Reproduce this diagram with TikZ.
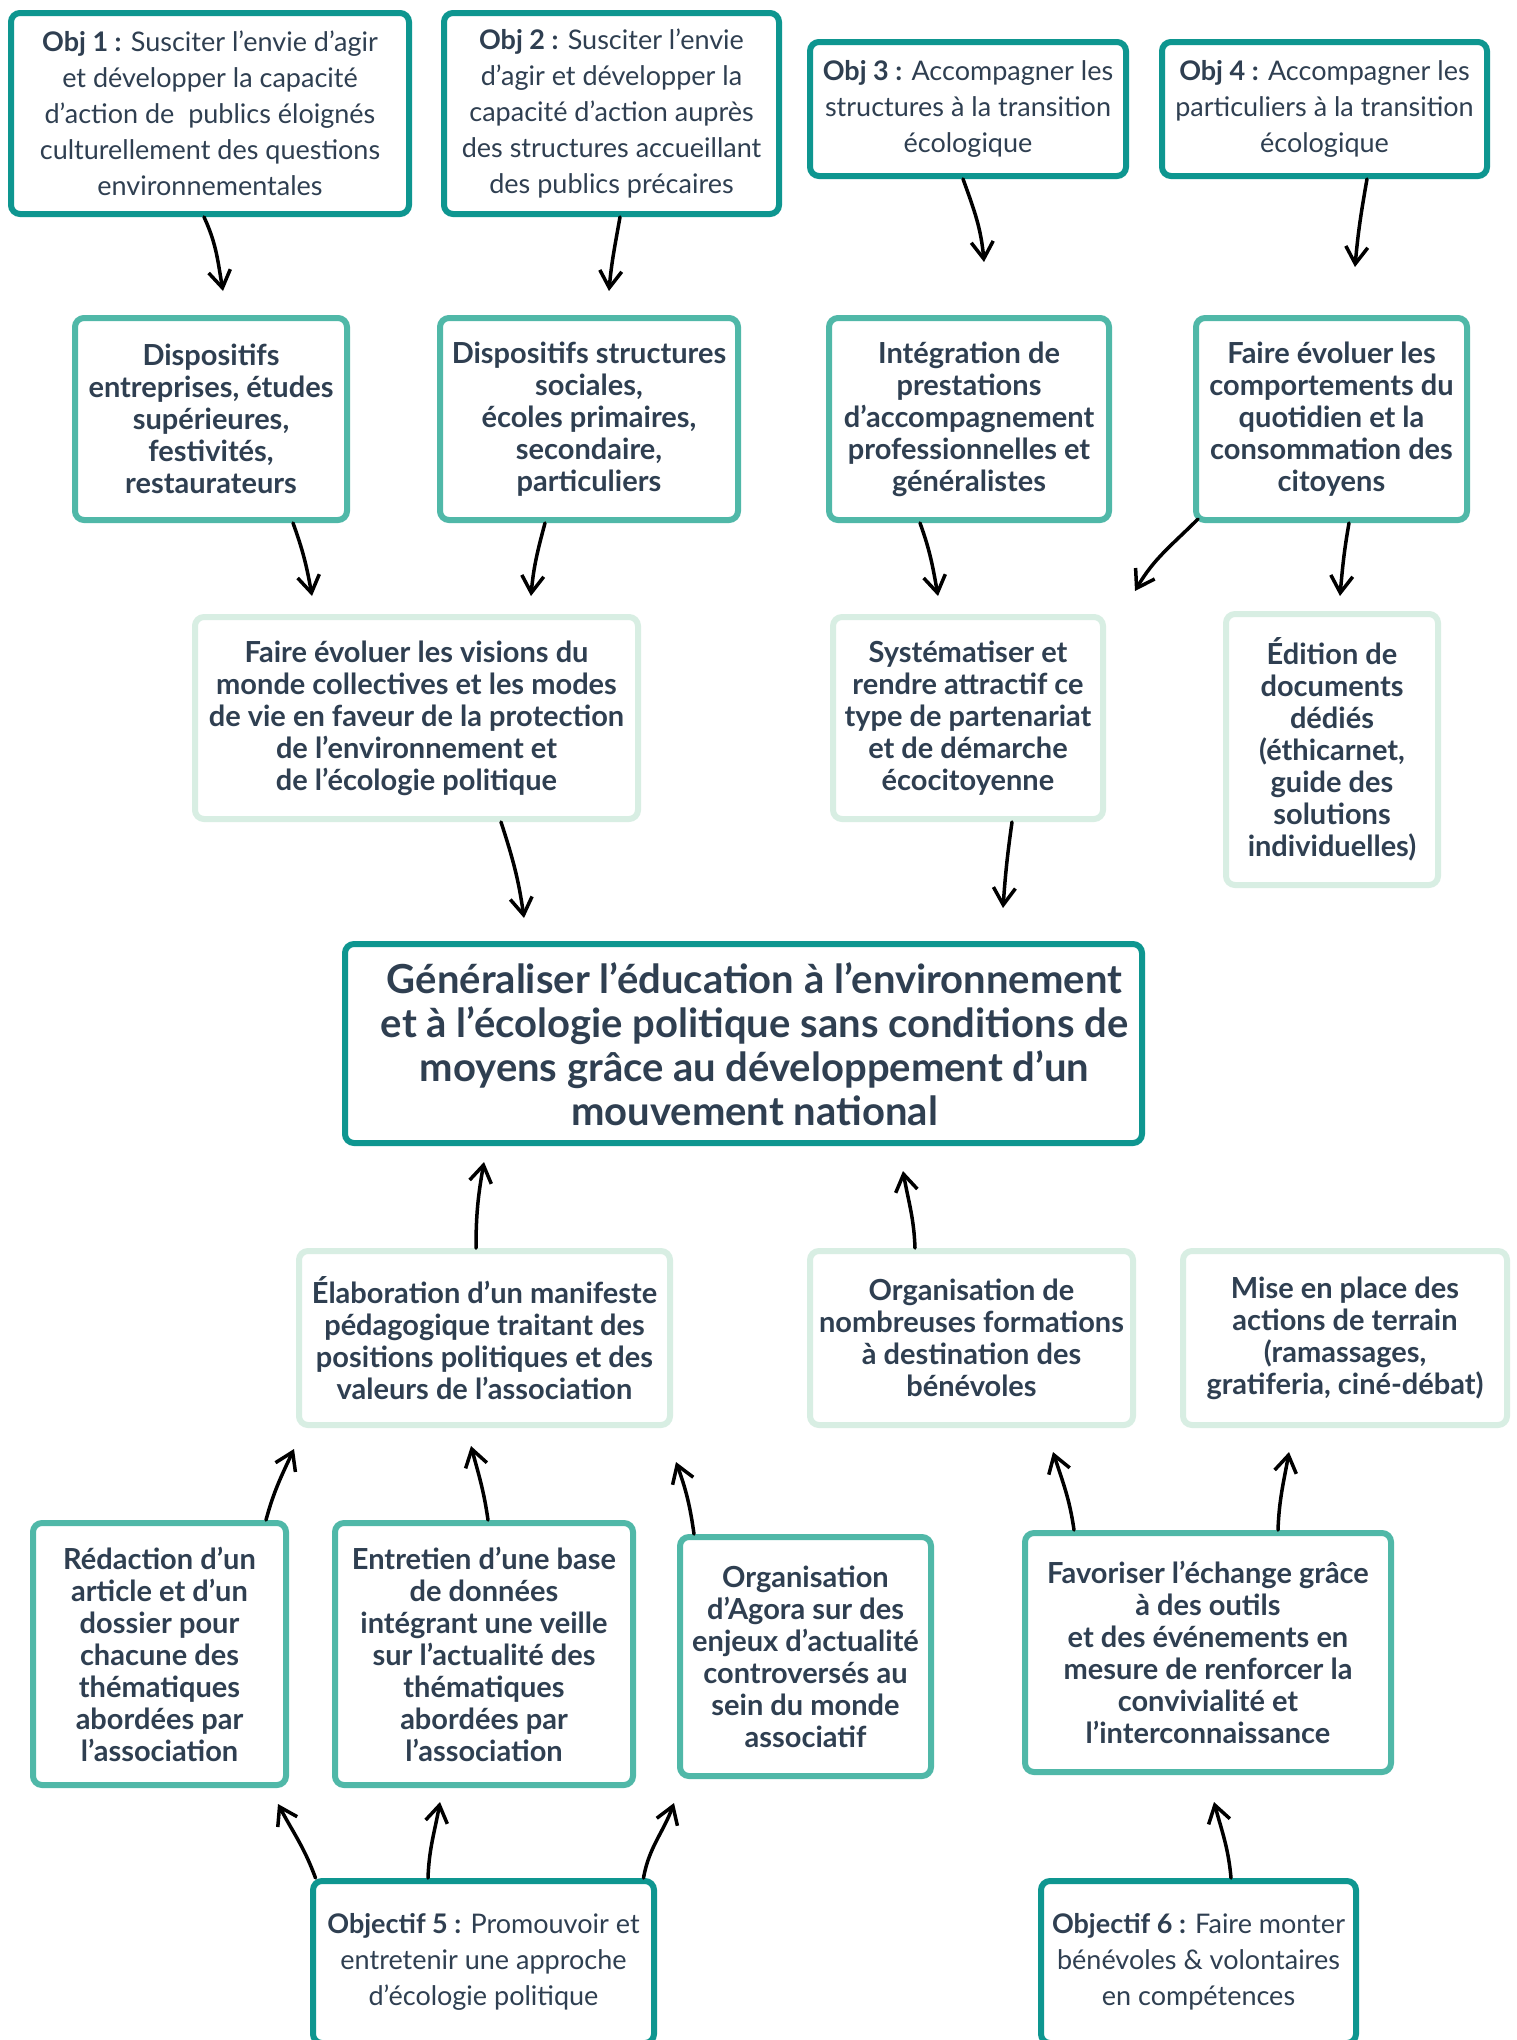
\documentclass[tikz,border=0pt]{standalone}
\usepackage{fontspec}
\setmainfont{Lato}
\usetikzlibrary{arrows.meta}
\definecolor{darkteal}{HTML}{0E9690}
\definecolor{midteal}{HTML}{50B8A8}
\definecolor{paleteal}{HTML}{D8EEE3}
\definecolor{txt}{HTML}{2F3F51}
\newcommand\mkbox[7]{%
\pgfmathsetmacro\bxcx{(#3+#5)/2}%
\pgfmathsetmacro\bxcy{(#4+#6)/2}%
\pgfmathsetmacro\bxw{#5-#3-6}%
\pgfmathsetmacro\bxh{#6-#4-6}%
\node[#2, minimum width=\bxw pt, minimum height=\bxh pt] (#1) at (\bxcx,\bxcy) {#7};}
\tikzset{
 box/.style={rectangle, rounded corners=9pt, line width=6pt, fill=white, text=txt, align=center, inner sep=2pt},
 objbox/.style={box, draw=darkteal, font=\fontsize{27}{36}\selectfont},
 midbox/.style={box, draw=midteal, font=\bfseries\fontsize{29}{32}\selectfont},
 palebox/.style={box, draw=paleteal, font=\bfseries\fontsize{29}{32}\selectfont},
 mainbox/.style={box, draw=darkteal, font=\bfseries\fontsize{40}{44}\selectfont},
 maintext/.style={text=txt, align=center, inner sep=0pt, font=\bfseries\fontsize{40}{44}\selectfont},
 arr/.style={-{Straight Barb[length=17pt,width=22pt]}, line width=3.5pt, line cap=round, line join=round, black}
}
\begin{document}
\begin{tikzpicture}[x=1pt,y=-1pt]
\useasboundingbox (0,0) rectangle (1516,2040);
\clip (0,0) rectangle (1516,2040);
\fill[white] (0,0) rectangle (1516,2040);
% objectives top
\mkbox{o1}{objbox}{8}{10}{412}{217}{\textbf{Obj 1 :} Susciter l’envie d’agir\\et développer la capacité\\d’action de\ \ publics éloignés\\culturellement des questions\\environnementales}
\mkbox{o2}{objbox}{441}{10}{782}{217}{\textbf{Obj 2 :} Susciter l’envie\\d’agir et développer la\\capacité d’action auprès\\des structures accueillant\\des publics précaires}
\mkbox{o3}{objbox}{807}{39}{1129}{179}{\textbf{Obj 3 :} Accompagner les\\structures à la transition\\écologique}
\mkbox{o4}{objbox}{1159}{39}{1490}{179}{\textbf{Obj 4 :} Accompagner les\\particuliers à la transition\\écologique}
% level 2
\mkbox{b1}{midbox}{72}{315}{350}{523}{Dispositifs\\entreprises, études\\supérieures,\\festivités,\\restaurateurs}
\mkbox{b2}{midbox}{437}{315}{741}{523}{Dispositifs structures\\sociales,\\écoles primaires,\\secondaire,\\particuliers}
\mkbox{b3}{midbox}{826}{315}{1112}{523}{Intégration de\\prestations\\d’accompagnement\\professionnelles et\\généralistes}
\mkbox{b4}{midbox}{1193}{315}{1470}{523}{Faire évoluer les\\comportements du\\quotidien et la\\consommation des\\citoyens}
% level 3
\mkbox{c1}{palebox}{192}{614}{641}{822}{Faire évoluer les visions du\\monde collectives et les modes\\de vie en faveur de la protection\\de l’environnement et\\de l’écologie politique}
\mkbox{c2}{palebox}{830}{614}{1106}{822}{Systématiser et\\rendre attractif ce\\type de partenariat\\et de démarche\\écocitoyenne}
\mkbox{c3}{palebox}{1223}{611}{1441}{888}{Édition de\\documents\\dédiés\\(éthicarnet,\\guide des\\solutions\\individuelles)}
% main
\mkbox{main}{mainbox}{342}{941}{1145}{1146}{}
\node[maintext] (maint) at ([xshift=11pt,yshift=-1pt]main.center) {Généraliser l’éducation à l’environnement\\et à l’écologie politique sans conditions de\\moyens grâce au développement d’un\\mouvement national};
% level 4
\mkbox{d1}{palebox}{296}{1248}{673}{1428}{Élaboration d’un manifeste\\pédagogique traitant des\\positions politiques et des\\valeurs de l’association}
\mkbox{d2}{palebox}{807}{1248}{1136}{1428}{Organisation de\\nombreuses formations\\à destination des\\bénévoles}
\mkbox{d3}{palebox}{1180}{1248}{1510}{1428}{Mise en place des\\actions de terrain\\(ramassages,\\gratiferia, ciné-débat)}
% level 5
\mkbox{e1}{midbox}{30}{1520}{289}{1788}{Rédaction d’un\\article et d’un\\dossier pour\\chacune des\\thématiques\\abordées par\\l’association}
\mkbox{e2}{midbox}{332}{1520}{636}{1788}{Entretien d’une base\\de données\\intégrant une veille\\sur l’actualité des\\thématiques\\abordées par\\l’association}
\mkbox{e3}{midbox}{677}{1534}{934}{1779}{Organisation\\d’Agora sur des\\enjeux d’actualité\\controversés au\\sein du monde\\associatif}
\mkbox{e4}{midbox}{1022}{1530}{1394}{1775}{Favoriser l’échange grâce\\à des outils\\et des événements en\\mesure de renforcer la\\convivialité et\\l’interconnaissance}
% objectives bottom
\mkbox{o5}{objbox}{310}{1878}{657}{2046}{\textbf{Objectif 5 :} Promouvoir et\\entretenir une approche\\d’écologie politique}
\mkbox{o6}{objbox}{1038}{1878}{1359}{2046}{\textbf{Objectif 6 :} Faire monter\\bénévoles \& volontaires\\en compétences}
% arrow tips
\coordinate (t1) at (223,291);
\coordinate (t2) at (609,291);
\coordinate (t3) at (984,262);
\coordinate (t4) at (1355,267);
\coordinate (t5) at (312,596);
\coordinate (t6) at (531,596);
\coordinate (t7) at (938,596);
\coordinate (t8) at (1135,591);
\coordinate (t9) at (1340,596);
\coordinate (t10) at (524,918);
\coordinate (t11) at (1003,908);
\coordinate (t12) at (484,1162);
\coordinate (t13) at (903,1171);
\coordinate (t14) at (294,1449);
\coordinate (t15) at (471,1446);
\coordinate (t16) at (676,1462);
\coordinate (t17) at (1053,1452);
\coordinate (t18) at (1289,1452);
\coordinate (t19) at (278,1804);
\coordinate (t20) at (440,1802);
\coordinate (t21) at (674,1803);
\coordinate (t22) at (1214,1802);
% arrows downward
\draw[arr] ([xshift=-6pt]o1.south) to[out=-65,in=100] (t1);
\draw[arr] ([xshift=8.5pt]o2.south) to[out=-100,in=85] (t2);
\draw[arr] ([xshift=-5pt]o3.south) to[out=-70,in=95] (t3);
\draw[arr] ([xshift=42.5pt]o4.south) to[out=-100,in=85] (t4);
\draw[arr] ([xshift=82pt]b1.south) to[out=-70,in=100] (t5);
\draw[arr] ([xshift=-44pt]b2.south) to[out=-105,in=85] (t6);
\draw[arr] ([xshift=-49pt]b3.south) to[out=-70,in=100] (t7);
\draw[arr] ([xshift=5pt,yshift=4pt]b4.south west) to[out=-135,in=60] (t8);
\draw[arr] ([xshift=17.5pt]b4.south) to[out=-100,in=85] (t9);
\draw[arr] ([xshift=84.5pt]c1.south) to[out=-72,in=98] (t10);
\draw[arr] ([xshift=44pt]c2.south) to[out=-98,in=86] (t11);
% arrows upward
\draw[arr] ([xshift=-8.5pt]d1.north) to[out=90,in=-100] (t12);
\draw[arr] ([xshift=-56.5pt]d2.north) to[out=92,in=-80] (t13);
\draw[arr] ([xshift=106.5pt]e1.north) to[out=75,in=-115] (t14);
\draw[arr] ([xshift=4pt]e2.north) to[out=98,in=-75] (t15);
\draw[arr] ([xshift=-111.5pt]e3.north) to[out=98,in=-70] (t16);
\draw[arr] ([xshift=-134pt]e4.north) to[out=98,in=-72] (t17);
\draw[arr] ([xshift=70pt]e4.north) to[out=88,in=-100] (t18);
\draw[arr] ([xshift=-168pt]o5.north) to[out=110,in=-62] (t19);
\draw[arr] ([xshift=-55.5pt]o5.north) to[out=88,in=-100] (t20);
\draw[arr] ([xshift=160pt]o5.north) to[out=80,in=-110] (t21);
\draw[arr] ([xshift=32.5pt]o6.north) to[out=95,in=-75] (t22);
\end{tikzpicture}
\end{document}
